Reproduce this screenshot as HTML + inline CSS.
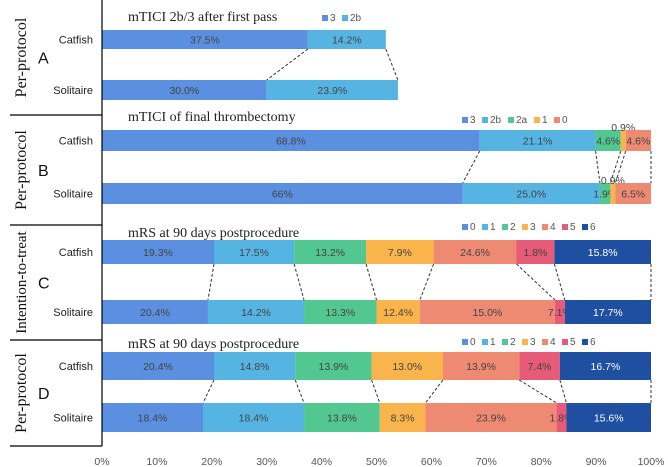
<!DOCTYPE html>
<html><head><meta charset="utf-8"><style>
body{margin:0;background:#fff;width:668px;height:467px;overflow:hidden}
svg{display:block}
</style></head><body>
<svg id="c" width="668" height="467" xmlns="http://www.w3.org/2000/svg"></svg>
<script>
const ticks=["0%","10%","20%","30%","40%","50%","60%","70%","80%","90%","100%"];
const rowNames=["Catfish","Solitaire"];
const legA=["3","2b"];
const legB=["3","2b","2a","1","0"];
const legMRS=["0","1","2","3","4","5","6"];
const aCat=[37.5,14.2], aSol=[30.0,23.9];
const aCatL=["37.5%","14.2%"], aSolL=["30.0%","23.9%"];
const bCat=[68.8,21.1,4.6,0.9,4.6], bSol=[65.7,25.0,1.9,0.9,6.5];
const bCatL=["68.8%","21.1%","4.6%","0.9%","4.6%"], bSolL=["66%","25.0%","1.9%","0.9%","6.5%"];
const cCat=[20.4,14.6,13.1,12.3,15.1,6.9,17.6], cSol=[19.3,17.5,13.2,7.9,24.6,1.8,15.7];
const cCatL=["19.3%","17.5%","13.2%","7.9%","24.6%","1.8%","15.8%"], cSolL=["20.4%","14.2%","13.3%","12.4%","15.0%","7.1%","17.7%"];
const dCat=[20.4,14.8,13.9,13.0,13.9,7.4,16.6], dSol=[18.4,18.4,13.8,8.3,23.9,1.8,15.4];
const dCatL=["20.4%","14.8%","13.9%","13.0%","13.9%","7.4%","16.7%"], dSolL=["18.4%","18.4%","13.8%","8.3%","23.9%","1.8%","15.6%"];

const NS="http://www.w3.org/2000/svg", svg=document.getElementById('c');
const X0=102,X1=651; const x=v=>X0+(X1-X0)*v/100;
function mk(t,a,p){const e=document.createElementNS(NS,t);for(const k in a)e.setAttribute(k,a[k]);(p||svg).appendChild(e);return e;}
const blue="#5b8fdf",lb="#56b4e3",gr="#52c78f",or="#f9b54c",sa="#ef8a72",pk="#e65c78",db="#1f4fa0";
const colA=[blue,lb], colB=[blue,lb,gr,or,sa], colM=[blue,lb,gr,or,sa,pk,db];
const serif='"Liberation Serif",serif', sans='"Liberation Sans",sans-serif';

function drawPanel(id,title,ty,leg,legx,legy,cols,cat,catL,sol,solL,cy,ch,sy,sh,side,sideSize,letter,secTop,secBot){
  const g=mk('g',{});
  
  
  let t=mk('text',{x:128,y:ty,'font-family':serif,'font-size':14,fill:'#222'},g);t.textContent=title;
  
  let lx=legx;
  leg.forEach((l,i)=>{
    const r=mk('rect',{x:lx,y:legy-6,width:6,height:6,fill:cols[i]},g);
    
    const tt=mk('text',{x:lx+8,y:legy,'font-family':sans,'font-size':10,fill:'#555'},g);tt.textContent=l;
    
    lx+=14+l.length*6;
  });
  const rows=[[cat,catL,cy,ch],[sol,solL,sy,sh]];
  const bounds=[];
  rows.forEach(([vals,labs,y,h],ri)=>{
    let acc=0;const b=[];
    vals.forEach((v,i)=>{
      const r=mk('rect',{x:x(acc),y:y,width:x(acc+v)-x(acc),height:h,fill:cols[i]},g);
      
      
      const above=v<1.5;
      const tt=mk('text',{x:(x(acc)+x(acc+v))/2,y:above?y+1:y+h/2+4,'text-anchor':'middle','font-family':sans,'font-size':10.5,fill:cols[i]===db?'#fff':'#444'},g);
      tt.textContent=labs[i];
      
      acc+=v;b.push(acc);
    });
    bounds.push(b);
    const rl=mk('text',{x:93,y:y+h/2+4,'text-anchor':'end','font-family':sans,'font-size':11,fill:'#222'},g);
    rl.textContent=rowNames[ri];
    
  });
  bounds[0].forEach((v,i)=>{
    const ln=mk('line',{x1:x(v),y1:cy+ch,x2:x(bounds[1][i]),y2:sy,stroke:'#333','stroke-width':1,'stroke-dasharray':'3,2'},g);
    
  });
  const mid=(secTop+secBot)/2;
  const s=mk('text',{x:0,y:0,transform:`translate(26,${mid}) rotate(-90)`,'text-anchor':'middle','font-family':serif,'font-size':sideSize,fill:'#111'},g);
  s.textContent=side;
  const L=mk('text',{x:38,y:mid+6,'font-family':sans,'font-size':16,fill:'#111'},g);
  L.textContent=letter;
}
drawPanel('a','mTICI 2b/3 after first pass',21,legA,322,21,colA,aCat,aCatL,aSol,aSolL,30,19,80,20,'Per-protocol',16,'A',0,115);
drawPanel('b','mTICI of final thrombectomy',121,legB,462,123,colB,bCat,bCatL,bSol,bSolL,130,21,183,21,'Per-protocol',16,'B',115,225);
drawPanel('c','mRS at 90 days postprocedure',237,legMRS,462,230,colM,cCat,cCatL,cSol,cSolL,240,24,300,24,'Intention-to-treat',15,'C',225,340);
drawPanel('d','mRS at 90 days postprocedure',348,legMRS,462,345,colM,dCat,dCatL,dSol,dSolL,352,28,403,29,'Per-protocol',16,'D',340,446);
[115,225,340].forEach(y=>{const l=mk('line',{x1:10,y1:y,x2:X0,y2:y,stroke:'#000','stroke-width':1.2});});
let ax=mk('line',{x1:X0,y1:0,x2:X0,y2:446,stroke:'#000','stroke-width':1.2});
ax=mk('line',{x1:10,y1:446,x2:X0,y2:446,stroke:'#000','stroke-width':1.2});
ticks.forEach((t,i)=>{const e=mk('text',{x:x(i*10),y:465,'text-anchor':'middle','font-family':sans,'font-size':10.5,fill:'#555'});e.textContent=t;});
</script>
</body></html>
